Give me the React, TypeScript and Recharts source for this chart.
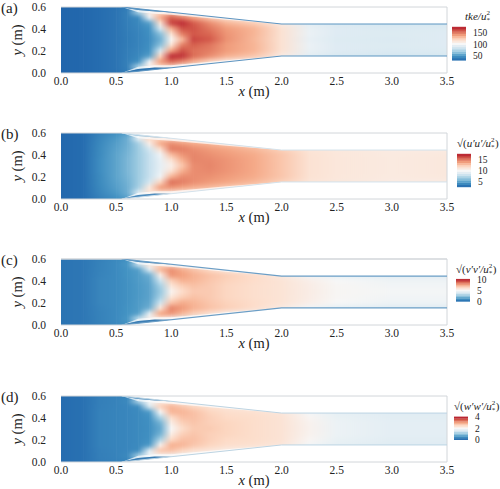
import { ComposedChart, Area, Line, ReferenceLine, Scatter, XAxis, YAxis } from 'recharts'

const FONT = '"Liberation Serif", serif'
const TEXT = '#222222'
const FRAME = '#d2d6da'

// RdBu style ramp, dark blue to dark red
const RAMP = ['#2166ac', '#4393c3', '#92c5de', '#d1e5f0', '#f7f7f7', '#fddbc7', '#f4a582', '#d6604d', '#b2182b']

const X_TICKS = [0, 0.5, 1, 1.5, 2, 2.5, 3, 3.5]
const Y_TICKS = [0, 0.2, 0.4, 0.6]

const columns = [0, 0.2, 0.35, 0.5, 0.6, 0.7, 0.8, 0.9, 1.0, 1.1, 1.2, 1.35, 1.5, 1.75, 2.0, 2.25, 2.5, 3.0, 3.5]
const rowsY = [0.6, 0.55, 0.5, 0.45, 0.4, 0.35, 0.3, 0.25, 0.2, 0.15, 0.1, 0.05, 0]

const wallXs = [0.55, 2.0, 3.5]
const wallUpper = [0.6, 0.445, 0.445]
const wallLower = [0, 0.155, 0.155]

// thin blue slivers just inside the walls, right after the contraction starts
const sliverXs = [0.55, 0.7, 0.85, 1.0]
const sliverUpper = [[0.6, 0.6], [0.572, 0.584], [0.558, 0.568], [0.552, 0.552]]
const sliverLower = [[0, 0], [0.016, 0.036], [0.032, 0.05], [0.048, 0.048]]

// pale strip between the slivers and the red core
const stripXs = [0.55, 0.7, 0.85, 1.0, 1.5, 2.0]
const stripUpper = [[0.6, 0.6], [0.552, 0.572], [0.538, 0.558], [0.53, 0.552], [0.485, 0.498], [0.445, 0.445]]
const stripLower = [[0, 0], [0.036, 0.056], [0.05, 0.07], [0.048, 0.07], [0.102, 0.115], [0.155, 0.155]]

const tkeRows = [
  [27, 28, 30, 32, 36, 42, 50, 50, 50, 50, 50, 50, 50, 50, 50, 50, 50, 50, 50],
  [27, 28, 30, 33, 38, 75, 112, 120, 126, 112, 100, 95, 95, 95, 95, 95, 95, 95, 95],
  [27, 28, 30, 33, 38, 42, 96, 138, 158, 150, 140, 126, 115, 104, 95, 90, 88, 85, 85],
  [27, 28, 30, 33, 37, 41, 50, 116, 166, 172, 160, 146, 134, 125, 110, 92, 87, 85, 86],
  [27, 28, 30, 33, 37, 40, 45, 86, 136, 162, 162, 152, 142, 134, 116, 95, 90, 88, 89],
  [27, 28, 30, 33, 36, 39, 44, 62, 116, 150, 160, 156, 144, 134, 116, 96, 90, 89, 90],
  [27, 28, 30, 33, 36, 39, 43, 56, 103, 132, 165, 160, 145, 133, 116, 94, 89, 88, 90],
  [27, 28, 30, 33, 36, 39, 44, 62, 116, 150, 158, 152, 142, 134, 116, 96, 90, 89, 90],
  [27, 28, 30, 33, 37, 40, 45, 86, 140, 162, 154, 150, 142, 134, 116, 95, 90, 88, 89],
  [27, 28, 30, 33, 37, 41, 50, 122, 172, 170, 155, 146, 136, 128, 110, 92, 87, 85, 86],
  [27, 28, 30, 33, 38, 44, 98, 142, 156, 148, 136, 122, 110, 100, 90, 88, 85, 85, 85],
  [27, 28, 30, 33, 38, 75, 108, 118, 118, 105, 95, 90, 90, 90, 90, 90, 90, 90, 90],
  [27, 28, 30, 32, 36, 42, 50, 50, 50, 50, 50, 50, 50, 50, 50, 50, 50, 50, 50],
]

const uuRows = [
  [2.8, 3.0, 3.8, 4.4, 5.0, 6.0, 7.0, 7.0, 7.0, 7.0, 7.0, 7.0, 7.0, 7.0, 7.0, 7.0, 7.0, 7.0, 7.0],
  [2.8, 3.0, 4.0, 4.8, 5.6, 9.6, 12.2, 12.2, 11.8, 11.2, 10.8, 10.8, 10.8, 10.8, 10.8, 10.8, 10.8, 10.8, 10.8],
  [2.8, 3.0, 4.1, 5.0, 5.6, 7.0, 10.8, 13.8, 14.6, 14.2, 13.8, 13.4, 12.8, 12.2, 11.4, 11.0, 10.9, 10.9, 10.9],
  [2.8, 3.0, 4.2, 5.1, 5.7, 6.8, 8.4, 11.8, 15.0, 15.0, 14.6, 14.2, 13.9, 13.3, 12.4, 11.4, 11.2, 11.0, 11.0],
  [2.8, 3.0, 4.2, 5.2, 5.8, 6.8, 8.0, 9.8, 13.2, 14.4, 14.8, 14.5, 14.2, 13.7, 12.8, 11.6, 11.3, 11.1, 11.2],
  [2.8, 3.0, 4.3, 5.2, 5.9, 6.8, 8.0, 9.4, 11.6, 13.6, 14.8, 14.7, 14.4, 13.8, 12.8, 11.6, 11.3, 11.1, 11.2],
  [2.8, 3.0, 4.3, 5.2, 5.9, 6.8, 8.0, 9.3, 10.8, 12.8, 14.6, 14.8, 14.4, 13.8, 12.8, 11.6, 11.3, 11.1, 11.2],
  [2.8, 3.0, 4.3, 5.2, 5.9, 6.8, 8.0, 9.4, 11.6, 13.6, 14.6, 14.7, 14.4, 13.8, 12.8, 11.6, 11.3, 11.1, 11.2],
  [2.8, 3.0, 4.2, 5.2, 5.8, 6.8, 8.0, 9.8, 13.4, 14.6, 14.6, 14.5, 14.2, 13.7, 12.8, 11.6, 11.3, 11.1, 11.2],
  [2.8, 3.0, 4.2, 5.1, 5.7, 6.8, 8.4, 12.2, 15.4, 15.0, 14.6, 14.2, 13.9, 13.3, 12.4, 11.4, 11.2, 11.0, 11.0],
  [2.8, 3.0, 4.1, 5.0, 5.6, 7.0, 11.2, 14.2, 14.4, 14.0, 13.6, 13.2, 12.6, 12.0, 11.4, 11.0, 10.9, 10.9, 10.9],
  [2.8, 3.0, 4.0, 4.8, 5.6, 9.2, 11.6, 11.6, 11.2, 10.8, 10.6, 10.6, 10.6, 10.6, 10.6, 10.6, 10.6, 10.6, 10.6],
  [2.8, 3.0, 3.8, 4.4, 5.0, 6.0, 7.0, 7.0, 7.0, 7.0, 7.0, 7.0, 7.0, 7.0, 7.0, 7.0, 7.0, 7.0, 7.0],
]

const vvRows = [
  [0.2, 0.3, 0.55, 0.8, 1.0, 1.3, 1.8, 1.8, 1.8, 1.8, 1.8, 1.8, 1.8, 1.8, 1.8, 1.8, 1.8, 1.8, 1.8],
  [0.2, 0.3, 0.6, 0.85, 1.2, 3.8, 5.8, 6.2, 5.6, 4.8, 4.4, 4.2, 4.2, 4.2, 4.2, 4.2, 4.2, 4.2, 4.2],
  [0.2, 0.3, 0.6, 0.85, 1.1, 1.4, 4.2, 7.2, 8.0, 7.4, 6.9, 6.3, 5.6, 5.0, 4.5, 4.2, 4.1, 4.0, 4.0],
  [0.2, 0.3, 0.65, 0.85, 1.1, 1.3, 1.8, 5.4, 7.9, 7.7, 7.3, 6.9, 6.6, 6.2, 5.6, 4.8, 4.4, 4.2, 4.2],
  [0.2, 0.3, 0.7, 0.85, 1.05, 1.3, 1.6, 3.6, 6.6, 7.3, 7.2, 6.8, 6.5, 6.2, 5.9, 5.4, 5.0, 4.7, 4.7],
  [0.2, 0.3, 0.7, 0.85, 1.05, 1.25, 1.5, 2.8, 5.8, 6.6, 6.9, 6.7, 6.4, 6.1, 5.9, 5.5, 5.1, 4.8, 4.8],
  [0.2, 0.3, 0.7, 0.85, 1.05, 1.25, 1.5, 2.5, 5.2, 6.2, 6.7, 6.7, 6.4, 6.1, 5.9, 5.5, 5.1, 4.9, 4.9],
  [0.2, 0.3, 0.7, 0.85, 1.05, 1.25, 1.5, 2.8, 5.8, 6.6, 6.9, 6.7, 6.4, 6.1, 5.9, 5.5, 5.1, 4.8, 4.8],
  [0.2, 0.3, 0.7, 0.85, 1.05, 1.3, 1.6, 3.6, 6.8, 7.4, 7.2, 6.8, 6.5, 6.2, 5.9, 5.4, 5.0, 4.7, 4.7],
  [0.2, 0.3, 0.65, 0.85, 1.1, 1.3, 1.8, 5.8, 8.2, 7.8, 7.3, 6.9, 6.6, 6.2, 5.6, 4.8, 4.4, 4.2, 4.2],
  [0.2, 0.3, 0.6, 0.85, 1.1, 1.4, 4.4, 7.6, 7.9, 7.2, 6.6, 6.0, 5.4, 4.8, 4.5, 4.2, 4.1, 4.0, 4.0],
  [0.2, 0.3, 0.6, 0.85, 1.2, 3.6, 5.4, 5.6, 5.0, 4.4, 4.2, 4.2, 4.2, 4.2, 4.2, 4.2, 4.2, 4.2, 4.2],
  [0.2, 0.3, 0.55, 0.8, 1.0, 1.3, 1.8, 1.8, 1.8, 1.8, 1.8, 1.8, 1.8, 1.8, 1.8, 1.8, 1.8, 1.8, 1.8],
]

const wwRows = [
  [0.08, 0.12, 0.26, 0.3, 0.32, 0.36, 0.5, 0.5, 0.5, 0.5, 0.5, 0.5, 0.5, 0.5, 0.5, 0.5, 0.5, 0.5, 0.5],
  [0.08, 0.12, 0.28, 0.32, 0.4, 1.3, 2.0, 2.2, 2.15, 2.0, 1.95, 1.9, 1.9, 1.9, 1.9, 1.9, 1.9, 1.9, 1.9],
  [0.08, 0.12, 0.28, 0.32, 0.36, 0.42, 1.6, 2.6, 2.85, 2.7, 2.55, 2.4, 2.3, 2.2, 2.1, 1.9, 1.8, 1.7, 1.7],
  [0.08, 0.12, 0.3, 0.33, 0.36, 0.4, 0.55, 2.0, 2.85, 2.85, 2.75, 2.55, 2.45, 2.4, 2.3, 1.95, 1.78, 1.7, 1.7],
  [0.08, 0.12, 0.3, 0.33, 0.36, 0.4, 0.48, 1.2, 2.45, 2.75, 2.75, 2.6, 2.5, 2.45, 2.35, 2.05, 1.82, 1.72, 1.72],
  [0.08, 0.12, 0.3, 0.33, 0.36, 0.4, 0.46, 0.8, 2.2, 2.6, 2.7, 2.6, 2.55, 2.45, 2.35, 2.1, 1.85, 1.75, 1.75],
  [0.08, 0.12, 0.3, 0.33, 0.36, 0.4, 0.45, 0.7, 2.0, 2.45, 2.65, 2.65, 2.55, 2.45, 2.35, 2.1, 1.85, 1.75, 1.75],
  [0.08, 0.12, 0.3, 0.33, 0.36, 0.4, 0.46, 0.8, 2.2, 2.6, 2.7, 2.6, 2.55, 2.45, 2.35, 2.1, 1.85, 1.75, 1.75],
  [0.08, 0.12, 0.3, 0.33, 0.36, 0.4, 0.48, 1.2, 2.5, 2.75, 2.75, 2.6, 2.5, 2.45, 2.35, 2.05, 1.82, 1.72, 1.72],
  [0.08, 0.12, 0.3, 0.33, 0.36, 0.4, 0.55, 2.1, 2.9, 2.85, 2.7, 2.55, 2.45, 2.4, 2.3, 1.95, 1.78, 1.7, 1.7],
  [0.08, 0.12, 0.28, 0.32, 0.36, 0.42, 1.7, 2.7, 2.75, 2.55, 2.4, 2.3, 2.2, 2.1, 2.0, 1.9, 1.8, 1.7, 1.7],
  [0.08, 0.12, 0.28, 0.32, 0.4, 1.2, 1.9, 2.05, 1.95, 1.9, 1.9, 1.9, 1.9, 1.9, 1.9, 1.9, 1.9, 1.9, 1.9],
  [0.08, 0.12, 0.26, 0.3, 0.32, 0.36, 0.5, 0.5, 0.5, 0.5, 0.5, 0.5, 0.5, 0.5, 0.5, 0.5, 0.5, 0.5, 0.5],
]

const tkeLevels = [32, 42, 52, 62, 72, 82, 92, 102, 112, 122, 132, 142, 152, 162, 172]
const uuLevels = [3.2, 4.2, 5.2, 6.2, 7.2, 8.2, 9.2, 10.2, 11.2, 12.2, 13.2, 14.2, 15.2, 16.2, 17.2]
const vvLevels = [0.2, 0.9, 1.6, 2.3, 3.0, 3.7, 4.4, 5.0, 5.7, 6.4, 7.1, 7.8, 8.5, 9.2, 9.8]
const wwLevels = [0.1, 0.4, 0.65, 0.95, 1.2, 1.5, 1.75, 2.0, 2.3, 2.5, 2.8, 3.05, 3.35, 3.6, 3.9]

const PLOT_LEFT = 61
const PLOT_WIDTH = 386
const PLOT_TOP = 7
const PLOT_HEIGHT = 66
const PX_PER_M = PLOT_WIDTH / 3.5

const colour = (v: number, min: number, max: number) => {
  const t = Math.min(1, Math.max(0, (v - min) / (max - min))) * (RAMP.length - 1)
  const i = Math.min(RAMP.length - 2, Math.floor(t))
  const f = t - i
  const a = RAMP[i]
  const b = RAMP[i + 1]
  const ch = (k: number) => {
    const p = parseInt(a.slice(k, k + 2), 16)
    const q = parseInt(b.slice(k, k + 2), 16)
    return Math.round(p + (q - p) * f)
  }
  return `rgb(${ch(1)},${ch(3)},${ch(5)})`
}

const HeatCell = (props: any) => {
  const { cx, cy, payload } = props
  const w = payload.width * PX_PER_M + 0.6
  const above = payload.row === 0 ? 16 : 3.2
  const below = payload.row === rowsY.length - 1 ? 16 : 3.2
  return <rect x={cx} y={cy - above} width={w} height={above + below} fill={`url(#${payload.panel}-row-${payload.row})`} />
}

const BarStep = (props: any) => {
  const { cx, cy, payload } = props
  return <rect x={cx - 7} y={cy - payload.h / 2 - 0.2} width={14} height={payload.h + 0.4} fill={payload.fill} />
}

const cellsFor = (panel: string, rows: number[][]) =>
  rows.flatMap((vals, r) =>
    vals.slice(0, -1).map((_, c) => ({
      x: columns[c],
      y: rowsY[r],
      width: columns[c + 1] - columns[c],
      row: r,
      panel,
    }))
  )

const zip = (ys: number[], xs: number[]) => xs.map((x, i) => ({ x, y: ys[i] }))
const bandOf = (xs: number[], bands: number[][]) => xs.map((x, i) => ({ x, band: bands[i] }))
const topCover = wallXs.map((x, i) => ({ x, band: [wallUpper[i], 0.6] }))
const bottomCover = wallXs.map((x, i) => ({ x, band: [0, wallLower[i]] }))

const panels = [
  {
    id: 'a', label: '(a)', top: 0, rows: tkeRows, min: 27, max: 177, levels: tkeLevels, ticks: [50, 100, 150],
    wall: '#5d95c2', wallW: 1.1, upperSliver: '#4f8dbf', lowerSliver: '#2f74b0', frameW: 1,
    barLeft: 452, barTop: 27.3, barH: 33.4, titleLeft: 465, titleTop: 9, root: false, name: 'tke/u',
  },
  {
    id: 'b', label: '(b)', top: 126, rows: uuRows, min: 2.7, max: 17.7, levels: uuLevels, ticks: [5, 10, 15],
    wall: '#d3e2ec', wallW: 1, upperSliver: '#a9cbe0', lowerSliver: '#4f8dbf', frameW: 1,
    barLeft: 456.5, barTop: 154, barH: 33, titleLeft: 457, titleTop: 136, root: true, name: "u′u′/u",
  },
  {
    id: 'c', label: '(c)', top: 252, rows: vvRows, min: -0.2, max: 10.2, levels: vvLevels, ticks: [0, 5, 10],
    wall: '#6b9ec6', wallW: 1.2, upperSliver: '#4f8dbf', lowerSliver: '#3b7db4', frameW: 1.6,
    barLeft: 455.5, barTop: 279, barH: 22.6, titleLeft: 456, titleTop: 262, root: true, name: "v′v′/u",
  },
  {
    id: 'd', label: '(d)', top: 389, rows: wwRows, min: 0, max: 4, levels: wwLevels, ticks: [0, 2, 4],
    wall: '#bcd4e3', wallW: 1, upperSliver: '#5d95c2', lowerSliver: '#3b7db4', frameW: 1,
    barLeft: 454, barTop: 416.7, barH: 22.6, titleLeft: 454, titleTop: 399, root: true, name: "w′w′/u",
  },
]

const Title = ({ p }: { p: (typeof panels)[number] }) => (
  <div
    style={{
      position: 'absolute', left: p.titleLeft, top: p.titleTop, fontFamily: FONT, fontSize: 11,
      lineHeight: '14px', color: TEXT, whiteSpace: 'nowrap',
    }}
  >
    {p.root ? '√(' : ''}
    <i>{p.name}</i>
    <span style={{ position: 'relative', display: 'inline-block', width: 4, height: 10 }}>
      <span style={{ position: 'absolute', left: 0, top: -4, fontSize: 7 }}>2</span>
      <span style={{ position: 'absolute', left: 0, top: 3, fontSize: 7 }}>*</span>
    </span>
    {p.root ? ')' : ''}
  </div>
)

const Panel = ({ p }: { p: (typeof panels)[number] }) => (
  <div className="heatmap" style={{ position: 'absolute', left: 0, top: p.top }}>
    <ComposedChart width={500} height={100} margin={{ top: PLOT_TOP, right: 53, bottom: 0, left: 0 }}>
      <XAxis
        dataKey="x" type="number" domain={[0, 3.5]} ticks={X_TICKS} interval={0} height={27}
        tickFormatter={(v: number) => v.toFixed(1)} tickLine={false} tickSize={0} tickMargin={4}
        axisLine={{ stroke: FRAME }} tick={{ fontFamily: FONT, fontSize: 11.5, fill: TEXT }}
      />
      <YAxis
        dataKey="y" type="number" domain={[0, 0.6]} ticks={Y_TICKS} interval={0} width={61} allowDataOverflow
        tickFormatter={(v: number) => v.toFixed(1)} tickLine={false} tickSize={0} tickMargin={15}
        axisLine={false} tick={{ fontFamily: FONT, fontSize: 11.5, fill: TEXT }}
      />
      <Scatter zIndex={1} data={cellsFor(p.id, p.rows)} shape={HeatCell} isAnimationActive={false} />
      <Area zIndex={100} data={topCover} dataKey="band" stroke="none" fill="#ffffff" fillOpacity={1} isAnimationActive={false} dot={false} activeDot={false} />
      <Area zIndex={100} data={bottomCover} dataKey="band" stroke="none" fill="#ffffff" fillOpacity={1} isAnimationActive={false} dot={false} activeDot={false} />
      <Area zIndex={110} data={bandOf(stripXs, stripUpper)} dataKey="band" stroke="none" fill="#ffffff" fillOpacity={0.7} isAnimationActive={false} dot={false} activeDot={false} />
      <Area zIndex={110} data={bandOf(stripXs, stripLower)} dataKey="band" stroke="none" fill="#ffffff" fillOpacity={0.7} isAnimationActive={false} dot={false} activeDot={false} />
      <Area zIndex={120} data={bandOf(sliverXs, sliverUpper)} dataKey="band" stroke="none" fill={p.upperSliver} fillOpacity={1} isAnimationActive={false} dot={false} activeDot={false} />
      <Area zIndex={120} data={bandOf(sliverXs, sliverLower)} dataKey="band" stroke="none" fill={p.lowerSliver} fillOpacity={1} isAnimationActive={false} dot={false} activeDot={false} />
      <ReferenceLine zIndex={200} y={0.6} stroke={FRAME} strokeWidth={p.frameW} />
      <ReferenceLine zIndex={200} x={3.5} stroke={FRAME} />
      <Line zIndex={300} data={zip(wallUpper, wallXs)} dataKey="y" stroke={p.wall} strokeWidth={p.wallW} dot={false} activeDot={false} isAnimationActive={false} />
      <Line zIndex={300} data={zip(wallLower, wallXs)} dataKey="y" stroke={p.wall} strokeWidth={p.wallW} dot={false} activeDot={false} isAnimationActive={false} />
      <text x={1} y={13} fontFamily={FONT} fontSize={15} fill={TEXT}>{p.label}</text>
      <text x={0} y={0} transform="translate(22 40) rotate(-90)" textAnchor="middle" fontFamily={FONT} fontSize={14.5} fill={TEXT}>
        <tspan fontStyle="italic">y</tspan> (m)
      </text>
      <text x={254} y={96} textAnchor="middle" fontFamily={FONT} fontSize={14.5} fill={TEXT}>
        <tspan fontStyle="italic">x</tspan> (m)
      </text>
    </ComposedChart>
  </div>
)

const ColourBar = ({ p }: { p: (typeof panels)[number] }) => {
  const data = p.levels.map((v) => ({
    x: 0.5,
    y: v,
    h: p.barH / p.levels.length,
    fill: colour(v, p.min, p.max),
  }))
  return (
    <div style={{ position: 'absolute', left: p.barLeft, top: p.barTop - 6 }}>
      <ComposedChart width={46} height={p.barH + 12} margin={{ top: 6, right: 0, bottom: 6, left: 0 }}>
        <XAxis dataKey="x" type="number" domain={[0, 1]} hide height={0} />
        <YAxis
          dataKey="y" type="number" orientation="right" domain={[p.min, p.max]} ticks={p.ticks} interval={0} width={32}
          tickLine={false} tickSize={0} tickMargin={7} axisLine={false}
          tick={{ fontFamily: FONT, fontSize: 9.5, fill: TEXT }}
        />
        <Scatter data={data} shape={BarStep} isAnimationActive={false} />
      </ComposedChart>
    </div>
  )
}

export default function App() {
  return (
    <div style={{ position: 'absolute', left: 0, top: 0, width: 500, height: 489, background: '#ffffff', overflow: 'hidden' }}>
      <style>{`.heatmap .recharts-scatter { filter: url(#rowBlur); clip-path: url(#plotClip); }`}</style>
      <svg width={0} height={0} style={{ position: 'absolute' }}>
        <defs>
          <filter id="rowBlur" x="-5%" y="-20%" width="110%" height="140%" colorInterpolationFilters="sRGB">
            <feGaussianBlur stdDeviation="0.5 2" />
          </filter>
          <clipPath id="plotClip" clipPathUnits="userSpaceOnUse">
            <rect x={PLOT_LEFT} y={PLOT_TOP} width={PLOT_WIDTH} height={PLOT_HEIGHT} />
          </clipPath>
          {panels.map((p) =>
            p.rows.map((vals, r) => (
              <linearGradient
                key={`${p.id}-${r}`}
                id={`${p.id}-row-${r}`}
                gradientUnits="userSpaceOnUse"
                x1={PLOT_LEFT}
                x2={PLOT_LEFT + PLOT_WIDTH}
                y1={0}
                y2={0}
              >
                {vals.map((v, c) => (
                  <stop key={c} offset={columns[c] / 3.5} stopColor={colour(v, p.min, p.max)} />
                ))}
              </linearGradient>
            ))
          )}
        </defs>
      </svg>
      {panels.map((p) => (
        <div key={p.id}>
          <Panel p={p} />
          <ColourBar p={p} />
          <Title p={p} />
        </div>
      ))}
    </div>
  )
}
